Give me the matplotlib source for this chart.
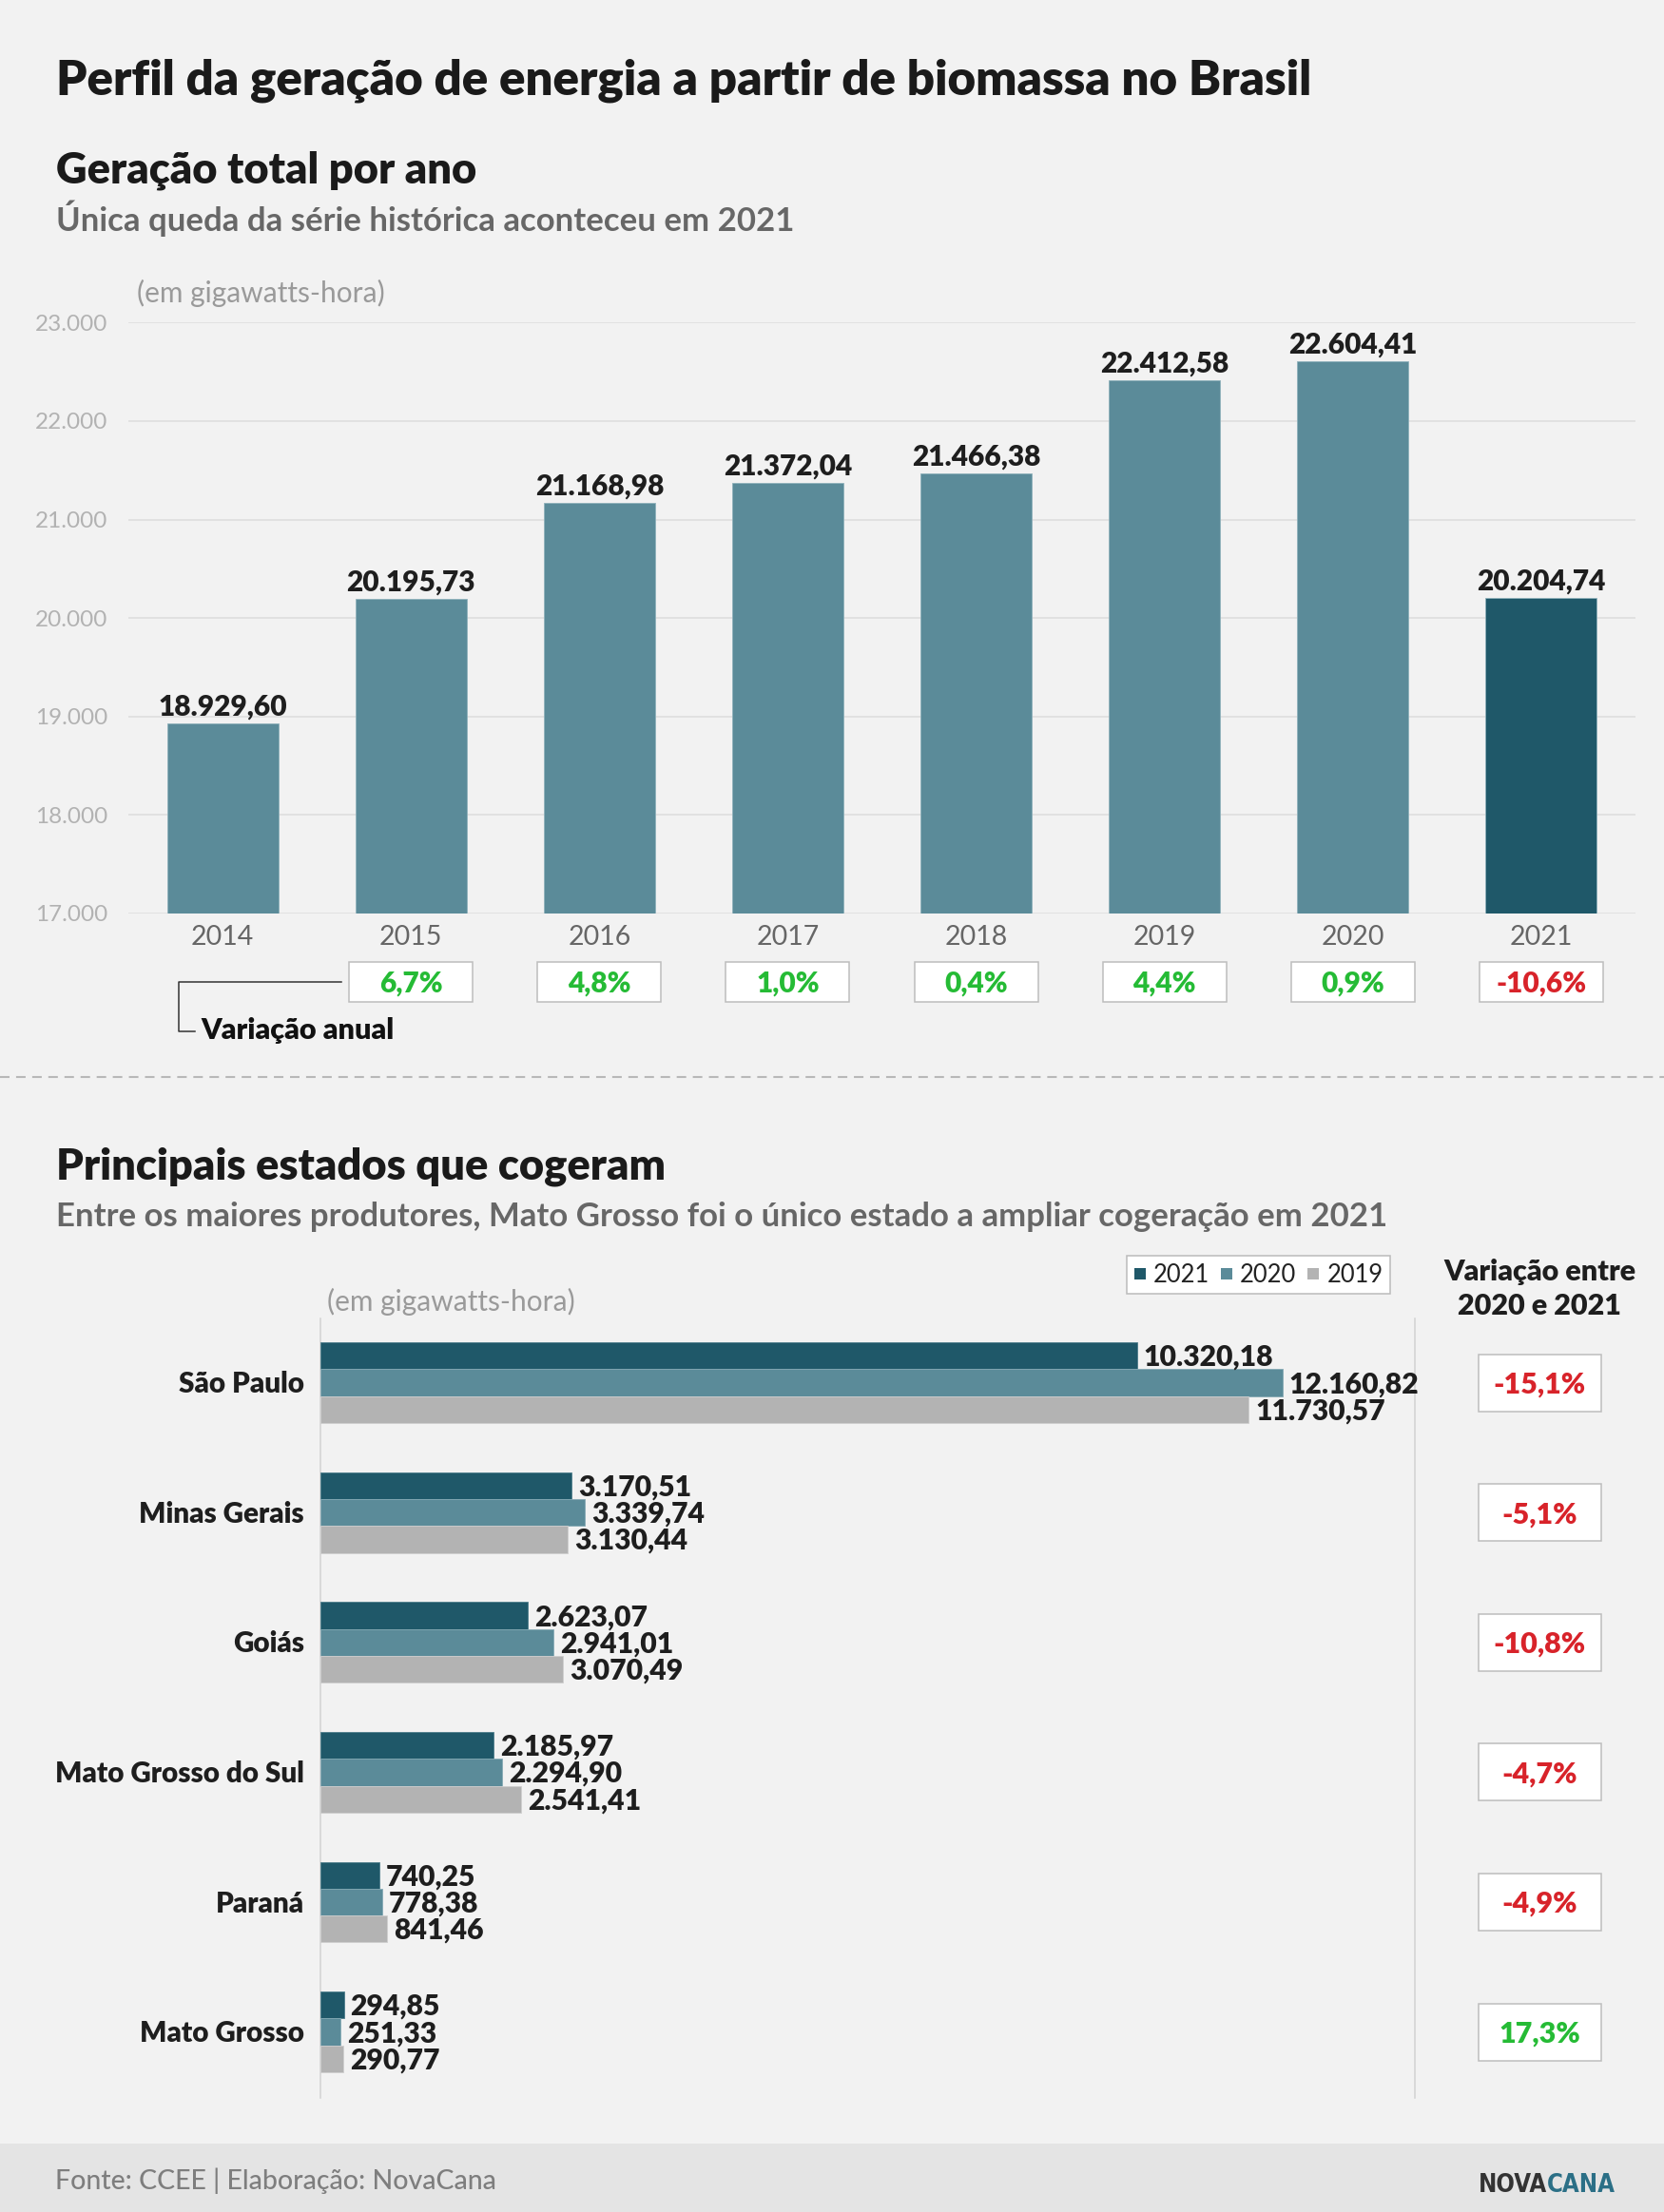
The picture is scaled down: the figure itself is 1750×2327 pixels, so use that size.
import matplotlib
matplotlib.use('Agg')
import matplotlib.pyplot as plt
from matplotlib import font_manager as fm
from matplotlib.font_manager import FontProperties
from matplotlib.patches import Rectangle
from matplotlib.lines import Line2D
from matplotlib.transforms import blended_transform_factory as blend, offset_copy
import numpy as np

# ---------------- data ----------------
years = ['2014', '2015', '2016', '2017', '2018', '2019', '2020', '2021']
totals = [18929.60, 20195.73, 21168.98, 21372.04, 21466.38, 22412.58, 22604.41, 20204.74]
annual_var = [None, 6.7, 4.8, 1.0, 0.4, 4.4, 0.9, -10.6]
yticks = [17000, 18000, 19000, 20000, 21000, 22000, 23000]

states = ['São Paulo', 'Minas Gerais', 'Goiás', 'Mato Grosso do Sul', 'Paraná', 'Mato Grosso']
gen2021 = [10320.18, 3170.51, 2623.07, 2185.97, 740.25, 294.85]
gen2020 = [12160.82, 3339.74, 2941.01, 2294.90, 778.38, 251.33]
gen2019 = [11730.57, 3130.44, 3070.49, 2541.41, 841.46, 290.77]
state_var = [-15.1, -5.1, -10.8, -4.7, -4.9, 17.3]
series_labels = ['2021', '2020', '2019']

# ---------------- style ----------------
W, H, DPI = 1750, 2327, 100
PT = 72.0 / DPI
BG = '#f2f2f2'
C_DARK = '#1f5869'
C_MID = '#5b8b99'
C_GRAY = '#b3b3b3'
GREEN = '#25bb35'
RED = '#d8232a'
TXT = '#1e1e1e'
HEAVY = 'heavy'

plt.rcParams['font.family'] = ['Lato', 'DejaVu Sans']
plt.rcParams['lines.scale_dashes'] = False


def br_num(v):
    return f"{v:,.2f}".replace(',', 'X').replace('.', ',').replace('X', '.')


def br_int(v):
    return f"{v:,.0f}".replace(',', '.')


def br_pct(v):
    return f"{v:.1f}".replace('.', ',') + '%'


fig = plt.figure(figsize=(W / DPI, H / DPI), dpi=DPI, facecolor=BG)


def fx(x):
    return x / W


def fy(y):
    return 1 - y / H


def ftext(x, y, s, size, weight='normal', color=TXT, ha='left', va='baseline', **kw):
    return fig.text(fx(x), fy(y), s, fontsize=size, fontweight=weight, color=color,
                    ha=ha, va=va, **kw)


# ---------------- headers ----------------
ftext(59, 100, 'Perfil da geração de energia a partir de biomassa no Brasil', 36.8, HEAVY, '#1a1a1a')
ftext(59, 193, 'Geração total por ano', 32.6, HEAVY, '#1a1a1a')
ftext(59, 243, 'Única queda da série histórica aconteceu em 2021', 25, 'bold', '#676767')
ftext(144, 318, '(em gigawatts-hora)', 21.5, 'normal', '#9a9a9a')

# ---------------- top chart ----------------
ax1 = fig.add_axes([fx(135), fy(961), (1720 - 135) / W, (961 - 339.3) / H])
ax1.set_facecolor('none')
xpos = np.arange(len(years))
bar_colors = [C_MID] * (len(years) - 1) + [C_DARK]
ax1.bar(xpos, totals, width=0.59, color=bar_colors, edgecolor='#8fb1bb', linewidth=0.6, zorder=3)
ax1.set_xlim(-0.5, len(years) - 0.5)
ax1.set_ylim(yticks[0], yticks[-1])
ax1.set_yticks(yticks)
ax1.set_yticklabels([br_int(v) for v in yticks])
ax1.set_xticks([])
ax1.grid(axis='y', color='#dddddd', lw=1.1, zorder=0)
ax1.set_axisbelow(True)
for s in ax1.spines.values():
    s.set_visible(False)
ax1.tick_params(axis='y', length=0, pad=15.8, labelsize=17.5, labelcolor='#b2b2b2')

for i, (yr, v) in enumerate(zip(years, totals)):
    ax1.annotate(yr, xy=(i, 0), xycoords=('data', 'axes fraction'), xytext=(0, -33 * PT),
                 textcoords='offset points', ha='center', va='baseline', fontsize=20.5, color='#666666')
    ax1.annotate(br_num(v), xy=(i, v), xytext=(0, 8.6 * PT), textcoords='offset points',
                 ha='center', va='baseline', fontsize=21.5, fontweight=HEAVY, color=TXT, zorder=5)

trans1 = blend(ax1.transData, fig.transFigure)
for i, v in enumerate(annual_var):
    if v is None:
        continue
    fig.add_artist(Rectangle((i - 0.328, fy(1054)), 0.656, (1054 - 1012) / H, transform=trans1,
                             facecolor='white', edgecolor='#bdbdbd', lw=1.1, zorder=1))
    fig.text(i, fy(1043.3), br_pct(v), transform=trans1, ha='center', va='baseline',
             fontsize=21.5, fontweight=HEAVY, color=GREEN if v >= 0 else RED, zorder=3)

fig.add_artist(Line2D([fx(359), fx(188), fx(188), fx(205)],
                      [fy(1032.7), fy(1032.7), fy(1085), fy(1085)],
                      transform=fig.transFigure, color='#333333', lw=1.1))
ftext(211, 1093.3, 'Variação anual', 22.1, HEAVY, '#111111')

# separator
fig.add_artist(Line2D([0, 1], [fy(1133), fy(1133)], transform=fig.transFigure,
                      color='#b8b8b8', lw=1.5, dashes=(7.2, 5.0)))

# ---------------- bottom headers ----------------
ftext(59, 1241, 'Principais estados que cogeram', 32.6, HEAVY, '#1a1a1a')
ftext(59, 1290, 'Entre os maiores produtores, Mato Grosso foi o único estado a ampliar cogeração em 2021',
      25, 'bold', '#676767')
ftext(344, 1379, '(em gigawatts-hora)', 21.5, 'normal', '#9a9a9a')
ftext(1619, 1346.7, 'Variação entre', 22, HEAVY, TXT, ha='center')
ftext(1619, 1382.7, '2020 e 2021', 22, HEAVY, TXT, ha='center')

# ---------------- horizontal chart ----------------
ax2 = fig.add_axes([fx(337), fy(2207), (1488 - 337) / W, (2207 - 1387) / H])
ax2.set_facecolor('none')
yy = np.arange(len(states))
bh = 0.207
series = [(gen2021, C_DARK, '#4d7d8b', -bh), (gen2020, C_MID, '#86aab5', 0.0), (gen2019, C_GRAY, '#cfcfcf', bh)]
for vals, col, ecol, off in series:
    ax2.barh(yy + off, vals, height=bh, color=col, edgecolor=ecol, linewidth=0.6, zorder=3)
    for j, v in enumerate(vals):
        ax2.annotate(br_num(v), xy=(v, j + off), xytext=(7 * PT, -10.5 * PT), textcoords='offset points',
                     ha='left', va='baseline', fontsize=21.7, fontweight=HEAVY, color=TXT, zorder=5)
ax2.set_xlim(0, 13834)
ax2.set_ylim(5.508, -0.495)
ax2.set_xticks([])
ax2.set_yticks([])
for k in ('top', 'bottom'):
    ax2.spines[k].set_visible(False)
for k in ('left', 'right'):
    ax2.spines[k].set_color('#d2d2d2')
    ax2.spines[k].set_linewidth(1.1)

for j, st in enumerate(states):
    ax2.annotate(st, xy=(0, j), xycoords=('axes fraction', 'data'), xytext=(-17 * PT, -10.5 * PT),
                 textcoords='offset points', ha='right', va='baseline', fontsize=21.3,
                 fontweight=HEAVY, color=TXT)

trans2 = blend(fig.transFigure, ax2.transData)
trans2_txt = offset_copy(trans2, fig=fig, x=0, y=-11, units='dots')
box_h = 60 / 136.6
for j, v in enumerate(state_var):
    fig.add_artist(Rectangle((fx(1555), j - box_h / 2), (1683.5 - 1555) / W, box_h, transform=trans2,
                             facecolor='white', edgecolor='#bdbdbd', lw=1.1, zorder=1))
    fig.text(fx(1619), j, br_pct(v), transform=trans2_txt, ha='center', va='baseline', fontsize=22,
             fontweight=HEAVY, color=GREEN if v >= 0 else RED, zorder=3)

handles = [Line2D([], [], marker='s', linestyle='', markersize=8.3, markerfacecolor=c, markeredgewidth=0)
           for c in (C_DARK, C_MID, C_GRAY)]
leg = ax2.legend(handles, series_labels, ncol=3, loc='upper left',
                 bbox_to_anchor=(fx(1185), fy(1321)), bbox_transform=fig.transFigure,
                 frameon=True, fancybox=False, edgecolor='#bbbbbb', facecolor='white', framealpha=1,
                 fontsize=18.4, handlelength=0.5, handletextpad=0.3, columnspacing=0.45,
                 borderpad=0.3, borderaxespad=0, labelcolor='#222222')
leg.get_frame().set_linewidth(1.1)

# ---------------- footer ----------------
fig.add_artist(Rectangle((0, 0), 1, (H - 2255) / H, transform=fig.transFigure,
                         facecolor='#e4e4e4', edgecolor='none', zorder=0))
ftext(58, 2303, 'Fonte: CCEE | Elaboração: NovaCana', 20.5, 'medium', '#7e7e7e')

# logo: look for a condensed bold face
cond = None
for f in fm.fontManager.ttflist:
    nm = (f.name + ' ' + f.fname).lower()
    w = f.weight
    isbold = (isinstance(w, (int, float)) and w >= 600) or (isinstance(w, str) and 'bold' in w.lower())
    if isbold and ('condensed' in nm or 'narrow' in nm or str(f.stretch) in ('condensed', 'extra-condensed', 'semi-condensed')):
        cond = f.fname
        if 'bold' in nm and 'semi' not in nm and 'extra' not in nm:
            break
logo_fp = FontProperties(fname=cond) if cond else FontProperties(family='Lato', weight='black')
logo_size = 35.0
renderer = fig.canvas.get_renderer()
tmp = fig.text(0, 0, 'NOVACANA', fontproperties=logo_fp, fontsize=logo_size)
wlogo = tmp.get_window_extent(renderer).width
tmp.remove()
if wlogo > 144 * 1.08:
    logo_size = logo_size * 144 / wlogo
    wlogo = 144
t_nova = fig.text(fx(1699 - wlogo), fy(2306), 'NOVA', fontproperties=logo_fp, fontsize=logo_size,
                  color='#333333', ha='left', va='baseline')
ax2.annotate('CANA', xy=(1, 0), xycoords=t_nova, xytext=(0, 0), textcoords='offset points',
             fontproperties=logo_fp, fontsize=logo_size, color='#2b6f86', ha='left', va='bottom',
             annotation_clip=False)

fig.savefig('out.png', dpi=DPI, facecolor=BG)
